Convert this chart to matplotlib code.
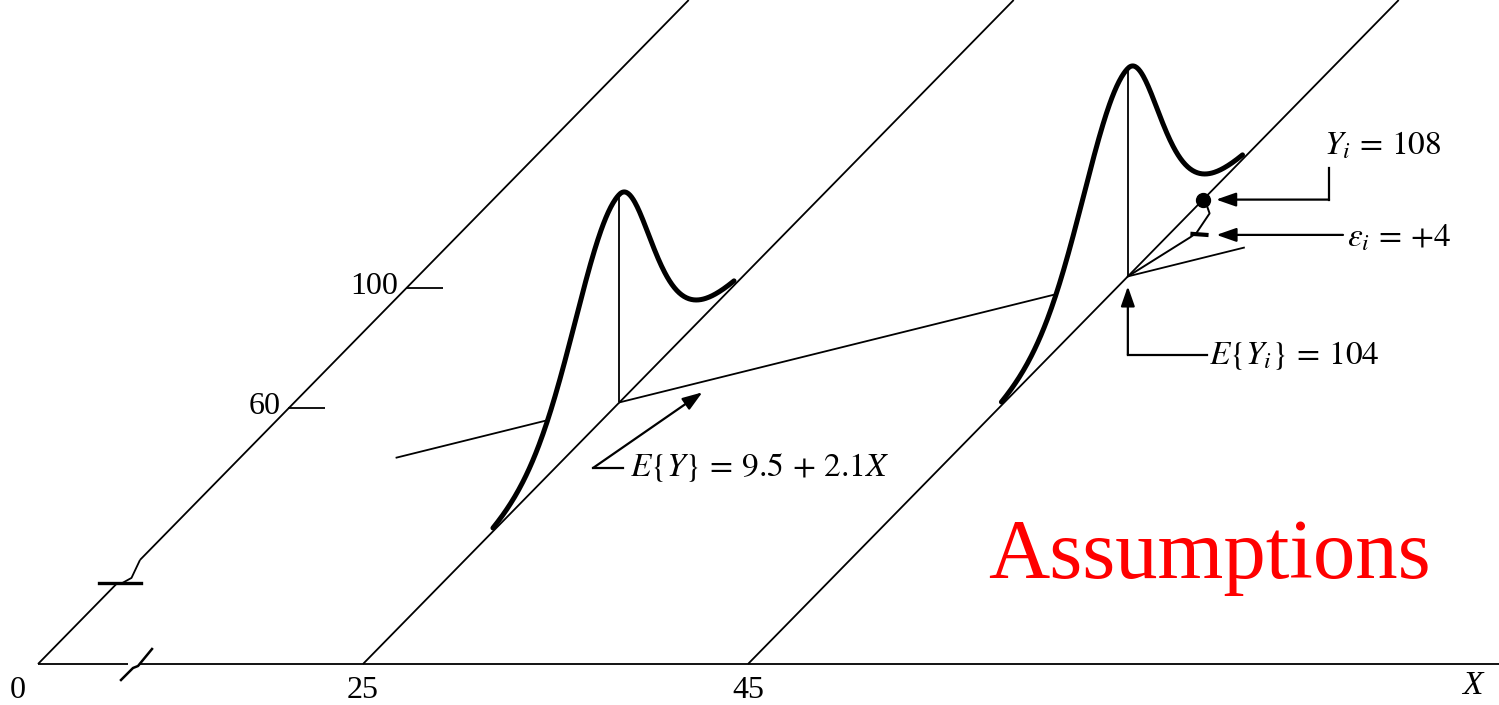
import numpy as np
import matplotlib.pyplot as plt
from matplotlib.patches import Polygon

plt.rcParams['font.family'] = ['Liberation Serif', 'DejaVu Serif']
plt.rcParams['mathtext.fontset'] = 'stix'

# regression model E{Y} = b0 + b1*X
b0, b1 = 9.5, 2.1
x_levels = [25, 45]            # X values with a probability curve
x_ticks = [0, 25, 45]
y_ticks = [60, 100]
reg_x = [16.2, 49.6]           # visible span of the regression line
x_obs = 45
y_obs, ey_obs, eps_obs = 108, 104, 4
eps_exag = 6.4                 # the sketch draws the residual far off scale
# density profile as drawn (in Y units): broad lower side, sharper upper side
sd_low, sd_high = 15.0, 7.5
curve_lo, curve_hi = -43, 39
peak_px = 208

# oblique sketch geometry (pixels, y down)
FLOOR = 664
KX, KY, Y_BASE = 2.94, 3.0, -25.2
Y_TOP = FLOOR / KY + Y_BASE


def floor_x(X):
    # X axis is broken between 0 and 25
    return 38.0 if X == 0 else 363 + 19.25 * (X - 25)


def proj(X, Y, lift=0.0):
    Y = np.asarray(Y, dtype=float)
    return floor_x(X) + KX * (Y - Y_BASE), FLOOR - KY * (Y - Y_BASE) - lift


def density(d):
    d = np.asarray(d, dtype=float)
    lo = np.exp(-d**2 / (2 * sd_low**2))
    hi = 1 / np.cosh(d / (2 * sd_high))**2
    return np.where(d < 0, lo, hi)


fig = plt.figure(figsize=(14.99, 7.05), dpi=100)
ax = fig.add_axes([0, 0, 1, 1])
ax.set_xlim(0, 1499)
ax.set_ylim(705, 0)
ax.axis('off')

thin = dict(color='black', lw=1.3, solid_capstyle='butt')
arrow_kw = dict(arrowstyle='-|>,head_length=1.2,head_width=0.42', color='black',
                lw=1.6, shrinkA=0, shrinkB=0)

# X axis with break
ax.plot([floor_x(0), 128], [FLOOR, FLOOR], **thin)
ax.plot([140, 1499], [FLOOR, FLOOR], **thin)
ax.plot([121, 133, 138, 152], [680, 668, 666, 649], color='black', lw=1.8)

# Y axis (at X=0) with break
bx, by = proj(0, 1.5)
ax.plot(*proj(0, [Y_BASE, 1.5]), **thin)
ax.plot([bx - 17, bx + 25], [by - 1, by - 1], color='black', lw=2.4)
ux, uy = proj(0, 9.5)
ax.plot([bx + 6, bx + 15, ux], [by - 1, by - 6, uy], **thin)
ax.plot(*proj(0, [9.5, Y_TOP]), **thin)
for yt in y_ticks:
    tx, ty = proj(0, yt)
    ax.plot([tx, tx + 37], [ty, ty], **thin)
    ax.text(tx - 8, ty - 2, str(yt), fontsize=23, ha='right', va='center')

# X tick labels and axis name
for xt in x_ticks:
    ax.text(floor_x(xt) - (20 if xt == 0 else 0), FLOOR + 26, str(xt),
            fontsize=23, ha='center', va='center')
ax.text(1472, FLOOR + 22, 'X', fontsize=24, style='italic', ha='center', va='center')

# Y lines at each X level
for xl in x_levels:
    ax.plot(*proj(xl, [Y_BASE, Y_TOP]), **thin, zorder=3)

# regression line in the floor plane
rx = np.array(reg_x)
ax.plot([proj(x, b0 + b1 * x)[0] for x in rx],
        [proj(x, b0 + b1 * x)[1] for x in rx], **thin, zorder=1)

# probability distributions of Y at each X level
for xl in x_levels:
    ey = b0 + b1 * xl
    d = np.linspace(curve_lo, curve_hi, 300)
    cx, cy = proj(xl, ey + d, peak_px * density(d))
    bxs, bys = proj(xl, ey + d)
    poly = np.column_stack([np.r_[cx, bxs[::-1]], np.r_[cy, bys[::-1]]])
    ax.add_patch(Polygon(poly, closed=True, facecolor='white', edgecolor='none', zorder=2))
    ax.plot(cx, cy, color='black', lw=3.6, solid_capstyle='round', zorder=4)
    px, py = proj(xl, ey)
    ax.plot([px, px], [py, py - peak_px], **thin, zorder=3)

# E{Y} label with arrow towards the regression line
gx = 28.5
lx, ly = proj(gx, b0 + b1 * gx)
ax.plot([623, 593], [468, 468], color='black', lw=1.6)
ax.annotate('', xy=(lx - 6, ly + 12), xytext=(593, 468), arrowprops=arrow_kw)
ax.text(630, 468, r'$E\{Y\}\,=\,9.5\,+\,2.1X$', fontsize=24, ha='left', va='center')

# observation at X = 45
ex, ey_px = proj(x_obs, ey_obs)
y_drawn = ey_obs + eps_obs * eps_exag
ox, oy = proj(x_obs, y_drawn)
ax.plot(ox, oy, 'o', color='black', ms=10, zorder=6)

# brace between E{Y_i} and Y_i
brace = [(ey_obs, 0), (117, 24), (118.5, 26), (125, 20), (127.5, 10), (y_drawn, 0)]
bpx = [proj(x_obs, yb)[0] + dx for yb, dx in brace]
bpy = [proj(x_obs, yb)[1] for yb, dx in brace]
ax.plot(bpx, bpy, color='black', lw=1.4, zorder=5)
cx0, cy0 = proj(x_obs, 118.5)
ax.plot([cx0 + 22, cx0 + 36], [cy0 + 1, cy0 + 2], color='black', lw=3, zorder=5)

# Y_i label
ax.plot([1329, 1329], [168, oy], color='black', lw=1.6)
ax.annotate('', xy=(ox + 13, oy), xytext=(1329, oy), arrowprops=arrow_kw)
ax.text(1324, 146, r'$Y_i\,=\,%d$' % y_obs, fontsize=24, ha='left', va='center')

# epsilon label
ax.annotate('', xy=(cx0 + 46, cy0 + 2), xytext=(1343, cy0 + 2), arrowprops=arrow_kw)
ax.text(1347, 238, r'$\varepsilon_i\,=\,{+}%d$' % eps_obs, fontsize=24, ha='left', va='center')

# E{Y_i} label
ax.plot([1207, ex], [355, 355], color='black', lw=1.6)
ax.annotate('', xy=(ex, ey_px + 10), xytext=(ex, 355), arrowprops=arrow_kw)
ax.text(1209, 355, r'$E\{Y_i\}\,=\,%d$' % ey_obs, fontsize=24, ha='left', va='center')

ax.text(988, 578, 'Assumptions', color='#ff0000', fontsize=61, ha='left', va='baseline')

fig.savefig('out.png', dpi=100)
